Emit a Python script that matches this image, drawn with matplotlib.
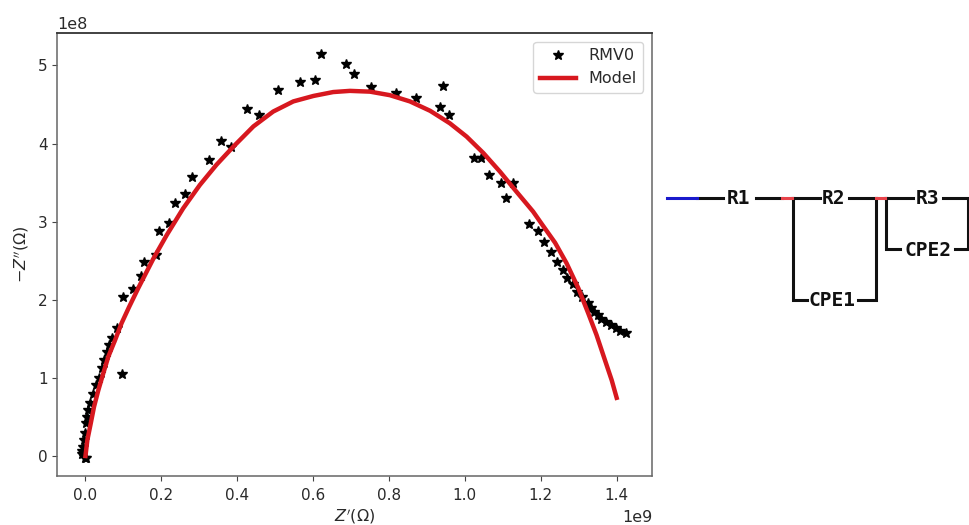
import matplotlib
matplotlib.use('Agg')
import matplotlib.pyplot as plt

# Measured data (Z' in 1e9 ohm, -Z'' in 1e8 ohm)
data_re = [0.000, 0.004, -0.008, -0.006, -0.004, -0.002, 0.001, 0.003, 0.005, 0.009, 0.014, 0.023,
           0.030, 0.038, 0.045, 0.051, 0.058, 0.065, 0.073, 0.084, 0.097, 0.102, 0.126, 0.148,
           0.157, 0.187, 0.196, 0.222, 0.238, 0.264, 0.282, 0.326, 0.359, 0.384, 0.428, 0.460,
           0.508, 0.566, 0.605, 0.621, 0.687, 0.708, 0.753, 0.818, 0.871, 0.942, 0.934, 0.958,
           1.024, 1.042, 1.063, 1.095, 1.126, 1.110, 1.168, 1.192, 1.210, 1.226, 1.242, 1.258,
           1.268, 1.284, 1.295, 1.310, 1.324, 1.332, 1.340, 1.350, 1.358, 1.371, 1.384, 1.397,
           1.410, 1.424]
data_im = [-0.03, -0.02, 0.03, 0.07, 0.12, 0.20, 0.29, 0.42, 0.50, 0.59, 0.68, 0.80,
           0.91, 1.00, 1.13, 1.23, 1.335, 1.42, 1.51, 1.64, 1.05, 2.03, 2.14, 2.30,
           2.48, 2.57, 2.885, 2.98, 3.24, 3.36, 3.57, 3.79, 4.03, 3.95, 4.44, 4.37,
           4.68, 4.79, 4.81, 5.15, 5.02, 4.89, 4.73, 4.65, 4.59, 4.74, 4.47, 4.37,
           3.82, 3.82, 3.60, 3.50, 3.50, 3.30, 2.97, 2.88, 2.74, 2.61, 2.49, 2.38,
           2.28, 2.20, 2.10, 2.03, 1.96, 1.90, 1.84, 1.80, 1.76, 1.71, 1.675, 1.64,
           1.60, 1.57]

# Model curve
model_re = [0.002, 0.007, 0.016, 0.0245, 0.036, 0.049, 0.062, 0.080, 0.097, 0.117, 0.141, 0.181,
            0.216, 0.259, 0.303, 0.347, 0.391, 0.444, 0.496, 0.549, 0.602, 0.654, 0.698, 0.751,
            0.803, 0.856, 0.909, 0.961, 1.005, 1.049, 1.093, 1.137, 1.180, 1.203, 1.238, 1.268,
            1.299, 1.325, 1.347, 1.369, 1.387, 1.400]
model_im = [0.00, 0.205, 0.42, 0.63, 0.845, 1.06, 1.27, 1.485, 1.70, 1.91, 2.15, 2.53,
            2.83, 3.17, 3.47, 3.73, 3.96, 4.22, 4.41, 4.54, 4.61, 4.66, 4.675, 4.665,
            4.62, 4.54, 4.42, 4.26, 4.09, 3.88, 3.64, 3.38, 3.13, 2.97, 2.73, 2.47,
            2.15, 1.83, 1.55, 1.23, 0.97, 0.745]

# Circuit labels
circuit_labels = ['R1', 'R2', 'R3', 'CPE1', 'CPE2']
circuit_label_x = [739, 834, 928, 832, 928]
circuit_label_y = [198, 198, 198, 301, 250]

text_color = '#2a2a2a'
font_size = 11
plt.rcParams['font.family'] = 'DejaVu Sans'
plt.rcParams['mathtext.fontset'] = 'dejavusans'

fig = plt.figure(figsize=(9.7, 5.25), dpi=100)
ax = fig.add_axes([57.5 / 970, 1 - 476 / 525, (652 - 57.5) / 970, (476 - 33) / 525])

ax.plot([v * 1e9 for v in data_re], [v * 1e8 for v in data_im], '*', color='black', ms=7.5, label='RMV0')
ax.plot([v * 1e9 for v in model_re], [v * 1e8 for v in model_im], color='#d7181f', lw=3.2,
        solid_joinstyle='round', label='Model')

ax.set_xlim(-0.0716e9, 1.493e9)
ax.set_ylim(-0.256e8, 5.416e8)
ax.set_xticks([0, 0.2e9, 0.4e9, 0.6e9, 0.8e9, 1.0e9, 1.2e9, 1.4e9])
ax.set_yticks([0, 1e8, 2e8, 3e8, 4e8, 5e8])
ax.tick_params(labelsize=font_size, labelcolor=text_color, color='#444444')
ax.tick_params(axis='x', pad=5.5)
ax.xaxis.OFFSETTEXTPAD = 5
for off in [ax.xaxis.get_offset_text(), ax.yaxis.get_offset_text()]:
    off.set_fontsize(11.5)
    off.set_color(text_color)

for side in ['left', 'right', 'bottom']:
    ax.spines[side].set_color('#666666')
    ax.spines[side].set_linewidth(1.1)
ax.spines['top'].set_color('#333333')
ax.spines['top'].set_linewidth(1.3)

ax.set_xlabel(r"$Z'(\Omega)$", fontsize=11.5, color=text_color)
ax.set_ylabel(r"$-Z''(\Omega)$", fontsize=11.5, color=text_color)
ax.xaxis.set_label_coords(0.5, -0.07)
ax.yaxis.set_label_coords(-0.044, 0.501)
ax.legend(loc='upper right', fontsize=11.5, labelcolor=text_color, bbox_to_anchor=(0.985, 0.98),
          borderaxespad=0, handlelength=2.3, handletextpad=0.75, borderpad=0.4, labelspacing=0.5)

# Circuit diagram drawn in picture pixels on a full figure overlay
cx = fig.add_axes([0, 0, 1, 1])
cx.set_xlim(0, 970)
cx.set_ylim(525, 0)
cx.axis('off')
cx.patch.set_alpha(0)

wires = [([697, 723], [198, 198]), ([756, 782], [198, 198]), ([792, 820], [198, 198]),
         ([849, 876], [198, 198]), ([885, 913], [198, 198]), ([943, 968, 968, 955], [198, 198, 249, 249]),
         ([900, 886, 886], [249, 249, 198]), ([807, 793, 793], [300, 300, 198]),
         ([858, 876, 876], [300, 300, 198])]
for wx, wy in wires:
    cx.plot(wx, wy, color='#111111', lw=2.2, solid_joinstyle='miter')
cx.plot([667, 697], [198, 198], color='#1a1acc', lw=2.2)
cx.plot([782, 792], [198, 198], color='#e8434a', lw=2.2)
cx.plot([876, 885], [198, 198], color='#e8434a', lw=2.2)

for label, lx, ly in zip(circuit_labels, circuit_label_x, circuit_label_y):
    cx.text(lx, ly, label, ha='center', va='center', fontsize=14, fontweight='bold',
            family='DejaVu Sans Mono', color='#111111')

fig.savefig('out.png', dpi=100)
